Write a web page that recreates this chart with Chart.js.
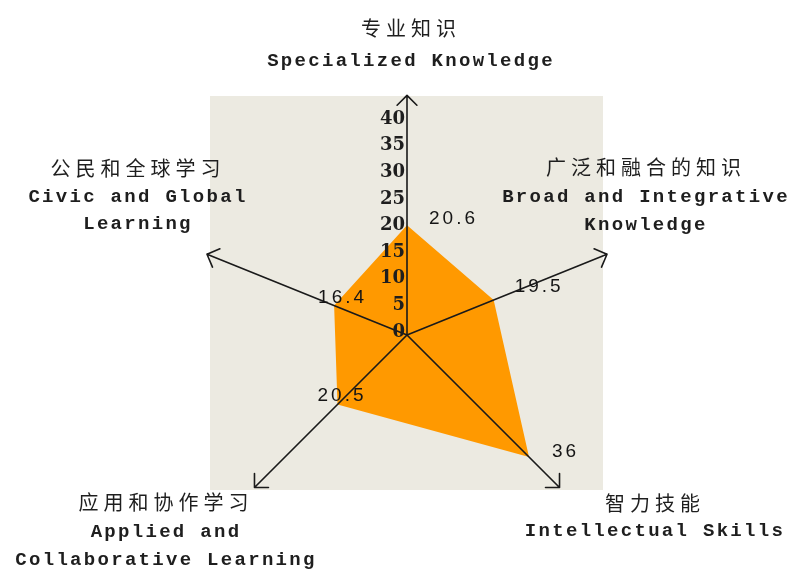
<!DOCTYPE html>
<html>
<head>
<meta charset="utf-8">
<script src="https://cdn.jsdelivr.net/npm/chart.js@4.4.1/dist/chart.umd.min.js"></script>
<style>
  html, body { margin: 0; padding: 0; background: #ffffff; }
  #wrap { width: 798px; height: 572px; }
</style>
</head>
<body>
<div id="wrap"><canvas id="c" width="798" height="572"></canvas></div>
<script>
// ---- data ----
const categoriesZh = ['专业知识', '广泛和融合的知识', '智力技能', '应用和协作学习', '公民和全球学习'];
const categoriesEn = [
  ['Specialized Knowledge'],
  ['Broad and Integrative', 'Knowledge'],
  ['Intellectual Skills'],
  ['Applied and', 'Collaborative Learning'],
  ['Civic and Global', 'Learning']
];
const scores = [20.6, 19.5, 36, 20.5, 16.4];
const tickStep = 5;
const tickMax = 40;

// ---- layout (not data) ----
const AXIS_ANGLES = [0, 68, 135, 225, 292];      // degrees, clockwise from top
const AXIS_REACH  = [1, 0.9, 0.9, 0.9, 0.9];     // per-axis foreshortening of the drawing
const AXIS_END = 45;                             // axes drawn out to this value
const LABEL_POS = [                              // [centre x, y of each line]
  [411, [28, 61]],
  [646, [167, 197, 225]],
  [655, [503, 531]],
  [166, [502, 532, 560]],
  [138, [168, 197, 224]]
];
const VALUE_OFFSET = [[45, -7], [44, -13], [35, -5], [3, -9], [7, -8]];
const PANEL = { x: 210, y: 96, w: 393, h: 394, color: '#ECEAE1' };

class SkewedRadialScale extends Chart.RadialLinearScale {
  getIndexAngle(index) {
    return AXIS_ANGLES[index % AXIS_ANGLES.length] * Math.PI / 180;
  }
  getPointPosition(index, distance, additionalAngle = 0) {
    return super.getPointPosition(index, distance * AXIS_REACH[index % AXIS_REACH.length], additionalAngle);
  }
}
SkewedRadialScale.id = 'skewedRadial';
SkewedRadialScale.defaults = Chart.RadialLinearScale.defaults;
Chart.register(SkewedRadialScale);

const decorPlugin = {
  id: 'decor',
  beforeDraw(chart) {
    const ctx = chart.ctx;
    ctx.save();
    ctx.fillStyle = '#ffffff';
    ctx.fillRect(0, 0, chart.width, chart.height);
    ctx.fillStyle = PANEL.color;
    ctx.fillRect(PANEL.x, PANEL.y, PANEL.w, PANEL.h);
    ctx.restore();
  },
  afterDatasetsDraw(chart) {
    const ctx = chart.ctx;
    const r = chart.scales.r;
    const cx = r.xCenter, cy = r.yCenter;
    ctx.save();
    // axes with arrow heads
    ctx.strokeStyle = '#1a1a1a';
    ctx.lineWidth = 1.6;
    ctx.lineCap = 'round';
    const n = chart.data.labels.length;
    for (let i = 0; i < n; i++) {
      const p = r.getPointPosition(i, r.getDistanceFromCenterForValue(AXIS_END));
      ctx.beginPath();
      ctx.moveTo(cx, cy);
      ctx.lineTo(p.x, p.y);
      const ang = Math.atan2(p.y - cy, p.x - cx);
      const L = 14;
      for (const s of [-1, 1]) {
        const a = ang + Math.PI + s * Math.PI / 4;
        ctx.moveTo(p.x, p.y);
        ctx.lineTo(p.x + L * Math.cos(a), p.y + L * Math.sin(a));
      }
      ctx.stroke();
    }
    // tick labels along the first axis
    ctx.fillStyle = '#1e1e1e';
    ctx.font = 'bold 18px "DejaVu Serif"';
    ctx.textAlign = 'right';
    ctx.textBaseline = 'middle';
    r.ticks.forEach(t => {
      if (t.value > tickMax) return;
      const p = r.getPointPosition(0, r.getDistanceFromCenterForValue(t.value));
      ctx.fillText(String(t.value), p.x - 2, p.y - 3);
    });
    // value labels
    const meta = chart.getDatasetMeta(0);
    ctx.font = '19px "Liberation Sans"';
    ctx.letterSpacing = '3px';
    ctx.textAlign = 'center';
    ctx.fillStyle = '#151515';
    meta.data.forEach((pt, i) => {
      const v = chart.data.datasets[0].data[i];
      ctx.fillText(String(v), pt.x + VALUE_OFFSET[i][0] + 1.5, pt.y + VALUE_OFFSET[i][1]);
    });
    // category labels
    ctx.fillStyle = '#1e1e1e';
    chart.data.labels.forEach((lines, i) => {
      const [x, ys] = LABEL_POS[i];
      lines.forEach((line, j) => {
        if (j === 0) {
          ctx.font = '20px "Noto Sans CJK SC"';
          ctx.letterSpacing = '5px';
        } else {
          ctx.font = 'bold 19px "Liberation Mono"';
          ctx.letterSpacing = '2.3px';
        }
        ctx.fillText(line, x, ys[j]);
      });
    });
    ctx.restore();
  }
};

new Chart(document.getElementById('c'), {
  type: 'radar',
  data: {
    labels: categoriesZh.map((zh, i) => [zh, ...categoriesEn[i]]),
    datasets: [{
      data: scores,
      backgroundColor: '#FF9900',
      borderWidth: 0,
      pointRadius: 0,
      pointHoverRadius: 0,
      fill: true,
      tension: 0
    }]
  },
  options: {
    responsive: false,
    animation: false,
    devicePixelRatio: 1,
    layout: { padding: { left: 170, right: 154, top: 98, bottom: 0 } },
    plugins: { legend: { display: false }, tooltip: { enabled: false } },
    scales: {
      r: {
        type: 'skewedRadial',
        min: 0,
        max: 44.5,
        ticks: { display: false, stepSize: tickStep },
        grid: { display: false },
        angleLines: { display: false },
        pointLabels: { display: false }
      }
    }
  },
  plugins: [decorPlugin]
});
</script>
</body>
</html>
